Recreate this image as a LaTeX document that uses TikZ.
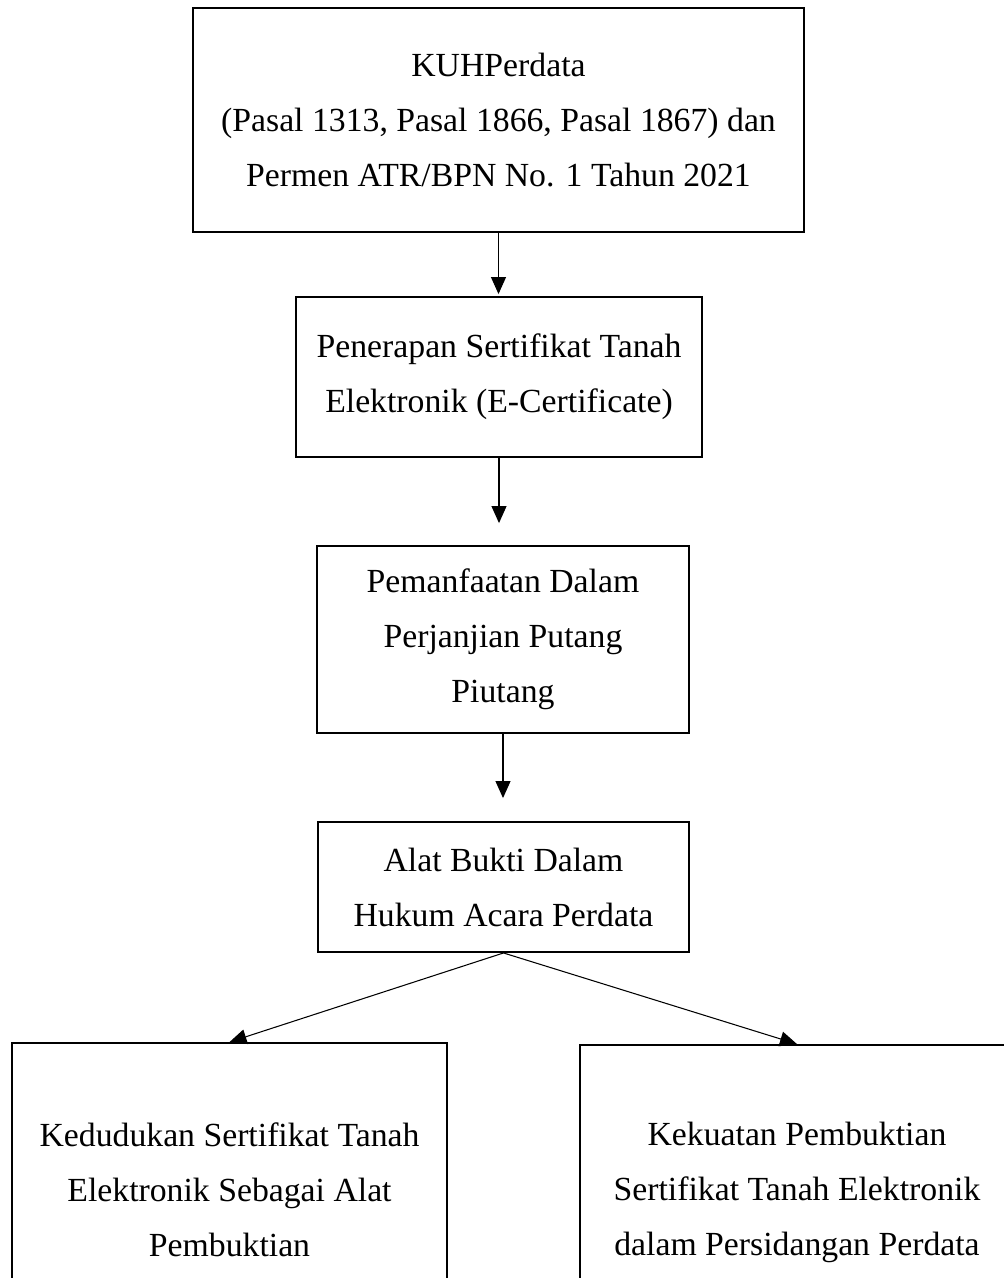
\documentclass[tikz,border=0pt]{standalone}
\usepackage{fontspec}
\setmainfont{Liberation Serif}
\usetikzlibrary{arrows.meta,positioning}
\tikzset{
  lawbox/.style={draw=black,line width=1.1pt,align=center,inner sep=0pt,font=\fontsize{19.2}{31.3}\selectfont},
  flow/.style={-{Triangle[length=.34cm,width=.3cm]},line width=.6pt},
}
\begin{document}
\begin{tikzpicture}[x=.02cm,y=-.02cm]
			\clip (0,0) rectangle (1004,1278);
			\node[lawbox,minimum width=12.22cm,minimum height=4.48cm] (kuh) at (498.5,120) {KUHPerdata\\(Pasal 1313, Pasal 1866, Pasal 1867) dan\\Permen ATR/BPN No. 1 Tahun 2021};
			\node[lawbox,minimum width=8.12cm,minimum height=3.2cm] (penerapan) at (499,377) {Penerapan Sertifikat Tanah\\Elektronik (E-Certificate)};
			\node[lawbox,minimum width=7.44cm,minimum height=3.74cm] (manfaat) at (503,639.5) {Pemanfaatan Dalam\\Perjanjian Putang\\Piutang};
			\node[lawbox,minimum width=7.42cm,minimum height=2.6cm] (alat) at (503.5,887) {Alat Bukti Dalam\\Hukum Acara Perdata};
			\node[lawbox,minimum width=8.7cm,minimum height=5.88cm] (kedudukan) at (229.5,1190) {Kedudukan Sertifikat Tanah\\Elektronik Sebagai Alat\\Pembuktian};
			\node[lawbox,minimum width=8.68cm,minimum height=5.88cm] (kekuatan) at (797,1192) {Kekuatan Pembuktian\\Sertifikat Tanah Elektronik\\dalam Persidangan Perdata};
			% arrows
			\draw[flow,shorten >=.04cm] (kuh.south) -- (kuh.south |- penerapan.north);
			\draw[flow,shorten >=.44cm] (penerapan.south) -- (penerapan.south |- manfaat.north);
			\draw[flow,shorten >=.46cm] (manfaat.south) -- (manfaat.south |- alat.north);
			\draw[flow] (alat.south) -- (kedudukan.north);
			\draw[flow] (alat.south) -- (kekuatan.north);
		\end{tikzpicture}
\end{document}
